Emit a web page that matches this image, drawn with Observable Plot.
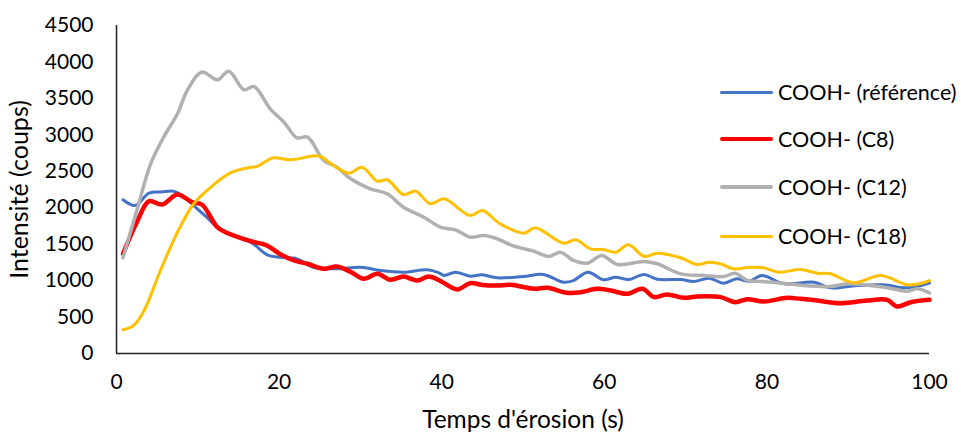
<!DOCTYPE html>
<html>
<head>
<meta charset="utf-8">
<script src="https://cdn.jsdelivr.net/npm/d3@7"></script>
<script src="https://cdn.jsdelivr.net/npm/@observablehq/plot@0.6"></script>
<style>
  body { margin: 0; background: #fff; }
  #wrap { position: relative; width: 961px; height: 435px; font-family: Lato, "Open Sans", sans-serif; }
  #legend { position: absolute; left: 720px; top: 0; }
  .item { position: absolute; left: 0; display: flex; align-items: center; white-space: nowrap; font-size: 21.5px; color: #000; }
  .sw { width: 53px; margin-right: 5px; border-radius: 2px; }
</style>
</head>
<body>
<div id="wrap"><div id="legend"></div></div>
<script>
const seriesNames = ["COOH- (référence)", "COOH- (C8)", "COOH- (C12)", "COOH- (C18)"];
const seriesColors = ["#4472C4", "#FF0000", "#B0B0B0", "#FFC000"];
const seriesWidths = [3, 4.5, 3.5, 3];

const refT = [0.8,2.3,4,5.5,7,8.3,9.5,11,12.4,14,16.5,18.7,20.2,22.2,24.2,27.1,30,32.5,35.3,38.2,39.6,40.3,41.7,43.5,45,46.8,50,52.5,55,56.2,58,59.9,61.4,63,64.9,66.5,69.4,71,72.9,74.7,76.3,77.8,79.4,82.1,85.8,87.8,91.1,94.4,97.3,100];
const refV = [2109,2030,2200,2215,2227,2150,2030,1880,1733,1640,1527,1345,1321,1299,1184,1162,1184,1139,1116,1148,1110,1070,1116,1061,1079,1038,1056,1084,978,1001,1116,1011,1047,1015,1084,1019,1015,988,1033,965,1025,990,1070,956,978,901,933,942,901,965];

const c8T = [0.8,2.5,4,5.6,7.5,9.3,10.5,12.4,13.4,16.5,18.5,20.2,22,23.5,25.5,27.1,28.8,30.4,32.1,33.7,35.3,37,38.4,39.9,41.9,43.5,45,46.8,48.5,51.3,53,55.4,57.1,59.1,60.8,62.8,64.7,66.1,67.7,69.8,71.4,74.3,76.1,77.6,79.6,82.5,84.1,86,89,92.3,94.8,96,97.7,100];
const c8V = [1368,1800,2090,2044,2181,2076,2044,1733,1664,1541,1482,1358,1270,1231,1162,1194,1120,1025,1093,1011,1056,1001,1056,992,878,965,940,933,942,888,901,833,841,888,864,819,888,773,810,764,782,773,704,745,713,764,750,730,690,727,736,645,704,736];

const c12T = [0.8,2.5,4.2,5.8,7.5,8.7,10.5,12.4,13.8,15.7,16.9,18.9,20.6,22.2,23.5,25.5,27.1,28.8,31.2,33.3,35.3,37.8,39.9,41.7,43.5,45.2,46.8,48.9,51.3,53.2,54.6,56.2,57.9,59.7,61.6,64.9,66.5,69.4,72.2,74.7,76.1,77.6,79.2,82.1,84.5,87.8,89.9,94.4,97.3,98.5,100];
const c12V = [1313,1962,2602,2968,3289,3608,3860,3755,3873,3618,3663,3357,3173,2959,2968,2648,2556,2397,2260,2191,2007,1870,1730,1697,1596,1619,1574,1472,1404,1331,1390,1276,1239,1345,1221,1262,1231,1093,1070,1056,1102,1001,988,965,933,919,956,910,855,888,830];

const c18T = [0.8,2.1,3.4,5.4,7.5,9.5,11.6,14,16.5,17.3,19.3,21.4,24.3,25.1,26.7,28.6,30.2,32.1,33.3,35.3,36.8,38.6,40.3,43.5,45,47.2,50.1,51.5,55,56.5,58.3,59.9,61.4,63,64.9,66.5,69.4,71.4,72.9,74.3,75.9,78,79.6,81.5,84.1,86.2,87.8,90.7,94,97.3,98.9,100];
const c18V = [325,384,590,1139,1664,2054,2282,2479,2556,2566,2685,2657,2712,2703,2579,2474,2556,2364,2383,2181,2227,2054,2122,1893,1962,1779,1651,1724,1513,1560,1436,1427,1390,1491,1331,1376,1313,1221,1253,1231,1162,1184,1176,1116,1152,1102,1093,970,1070,942,960,1000];

const xTicks = [0, 20, 40, 60, 80, 100];
const yTicks = [0, 500, 1000, 1500, 2000, 2500, 3000, 3500, 4000, 4500];

const allT = [refT, c8T, c12T, c18T];
const allV = [refV, c8V, c12V, c18V];
const data = [];
allT.forEach((ts, i) => ts.forEach((t, j) => data.push({s: seriesNames[i], t, v: allV[i][j]})));

const font = "Lato, 'Open Sans', sans-serif";
const chart = Plot.plot({
  width: 961,
  height: 435,
  marginLeft: 116,
  marginRight: 32,
  marginTop: 25,
  marginBottom: 82,
  style: {fontFamily: font, fontSize: "21px", color: "#000", background: "#fff"},
  x: {domain: [0, 100]},
  y: {domain: [0, 4500]},
  marks: [
    Plot.axisX({ticks: xTicks, tickSize: 0, tickPadding: 21, label: "Temps d'érosion (s)", labelAnchor: "center", labelArrow: "none", labelOffset: 74, fontSize: 21}),
    Plot.axisY({ticks: yTicks, tickFormat: d => String(d), tickSize: 0, tickPadding: 23, label: "Intensité (coups)", labelAnchor: "center", labelArrow: "none", labelOffset: 106, fontSize: 21}),
    ...seriesNames.map((name, i) => Plot.line(data.filter(d => d.s === name), {
      x: "t", y: "v", stroke: seriesColors[i], strokeWidth: seriesWidths[i], curve: "catmull-rom", strokeLinejoin: "round", strokeLinecap: "round"
    })),
    Plot.ruleX([0], {stroke: "#222", strokeWidth: 1.5}),
    Plot.ruleY([0], {stroke: "#222", strokeWidth: 1.5})
  ]
});
chart.querySelectorAll("g[aria-label='x-axis label'] text").forEach(t => t.setAttribute("font-size", "24.5"));
chart.querySelectorAll("g[aria-label='y-axis label'] text").forEach(t => t.setAttribute("font-size", "25"));
document.getElementById("wrap").prepend(chart);

const legend = document.getElementById("legend");
const legendTops = [92, 139, 187, 236];
seriesNames.forEach((name, i) => {
  const item = document.createElement("div");
  item.className = "item";
  item.style.top = (legendTops[i] - 14) + "px";
  item.style.height = "28px";
  const sw = document.createElement("span");
  sw.className = "sw";
  sw.style.height = seriesWidths[i] + "px";
  sw.style.background = seriesColors[i];
  const tx = document.createElement("span");
  tx.textContent = name;
  item.appendChild(sw);
  item.appendChild(tx);
  legend.appendChild(item);
});
</script>
</body>
</html>
